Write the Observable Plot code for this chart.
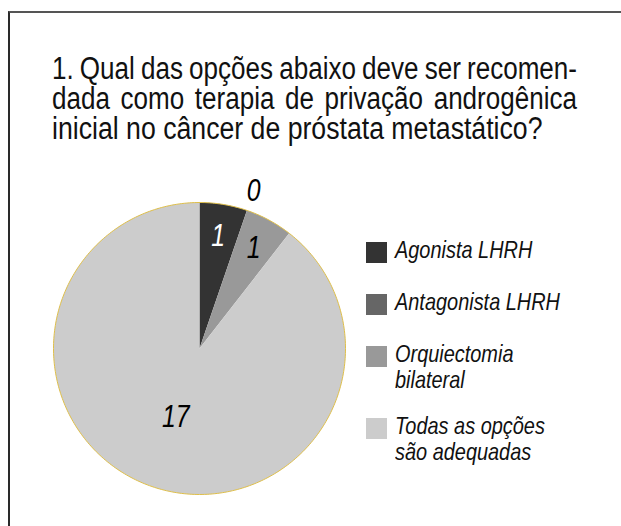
<!DOCTYPE html>
<html>
<head>
<meta charset="utf-8">
<script src="https://cdn.jsdelivr.net/npm/d3@7"></script>
<script src="https://cdn.jsdelivr.net/npm/@observablehq/plot@0.6"></script>
<style>
  html, body { margin: 0; padding: 0; background: #fff; }
  #wrap { position: relative; width: 621px; height: 526px; overflow: hidden; font-family: "Liberation Sans", Arial, sans-serif; }
  #frame { position: absolute; left: 8px; top: 11px; width: 640px; height: 540px; border-top: 2px solid #555; border-left: 2px solid #2a2a2a; }
  #title { position: absolute; left: 52px; top: 54px; font-size: 31px; line-height: 30px; color: #111; }
  #title .ln { display: block; height: 30px; }
  #title .ln span { display: inline-block; white-space: nowrap; transform-origin: 0 0; }
  #chart { position: absolute; left: 0; top: 0; }
  #legend { position: absolute; left: 366px; top: 0; font-style: italic; font-size: 24px; color: #111; }
  .item { position: absolute; left: 0; white-space: nowrap; }
  .sw { position: absolute; left: 0; top: 0; width: 21px; height: 21px; }
  .lab { position: absolute; left: 29px; top: -5px; line-height: 26px; transform: scaleX(0.83); transform-origin: 0 0; }
</style>
</head>
<body>
<div id="wrap">
  <div id="frame"></div>
  <div id="chart"></div>
  <div id="title"></div>
  <div id="legend"></div>
</div>
<script>
const titleLines = ["1. Qual das opções abaixo deve ser recomen-", "dada como terapia de privação androgênica", "inicial no câncer de próstata metastático?"];
const categories = ["Agonista LHRH", "Antagonista LHRH", "Orquiectomia bilateral", "Todas as opções são adequadas"];
const legendLines = [["Agonista LHRH"], ["Antagonista LHRH"], ["Orquiectomia", "bilateral"], ["Todas as opções", "são adequadas"]];
const values = [1, 0, 1, 17];
const colors = ["#333333", "#666666", "#999999", "#cccccc"];
const labelColors = ["#ffffff", "#000000", "#000000", "#000000"];
const legendTops = [242, 294, 346, 418];

// title: first two lines justified to the full width, last line left aligned
const titleEl = document.getElementById("title");
titleLines.forEach((line, i) => {
  const row = document.createElement("div");
  row.className = "ln";
  const span = document.createElement("span");
  row.appendChild(span);
  titleEl.appendChild(row);
  if (i < titleLines.length - 1) {
    const words = line.split(" ");
    span.textContent = words.join(" ");
    const w = span.getBoundingClientRect().width;
    const target = 525 / 0.84;
    const extra = (target - w) / (words.length - 1);
    span.style.wordSpacing = extra + "px";
    const w2 = span.getBoundingClientRect().width;
    span.style.transform = `scaleX(${525 / w2})`;
  } else {
    span.textContent = line;
    span.style.transform = "scaleX(0.86)";
  }
});

const arcs = d3.pie().sort(null)(values);

// slice polygons in unit-radius data space (angle clockwise from 12 o'clock)
const slices = [];
arcs.forEach((a, i) => {
  if (a.endAngle - a.startAngle <= 0) return;
  slices.push({cat: categories[i], x: 0, y: 0});
  const n = Math.max(2, Math.ceil((a.endAngle - a.startAngle) / 0.01));
  for (let k = 0; k <= n; k++) {
    const t = a.startAngle + (a.endAngle - a.startAngle) * k / n;
    slices.push({cat: categories[i], x: Math.sin(t), y: Math.cos(t)});
  }
  slices.push({cat: categories[i], x: 0, y: 0});
});

const rim = d3.range(0, 361).map(d => {
  const t = d * Math.PI / 180;
  return {x: Math.sin(t), y: Math.cos(t)};
});

const labels = arcs.map((a, i) => {
  const mid = (a.startAngle + a.endAngle) / 2;
  const r = values[i] === 0 ? 1.14 : (a.endAngle - a.startAngle > Math.PI ? 0.5 : 0.78);
  return {text: String(values[i]), x: r * Math.sin(mid), y: r * Math.cos(mid), color: labelColors[i]};
});

const chart = Plot.plot({
  width: 621,
  height: 526,
  margin: 0,
  x: {domain: [-1, 1], range: [53, 345], axis: null},
  y: {domain: [-1, 1], range: [494, 202], axis: null},
  color: {domain: categories, range: colors},
  style: {background: "transparent"},
  marks: [
    Plot.line(slices, {x: "x", y: "y", z: "cat", fill: "cat", stroke: "none", curve: "linear"}),
    Plot.line(rim, {x: "x", y: "y", stroke: "#dfbf4a", strokeWidth: 1, curve: "linear"}),
    Plot.text(labels, {
      x: "x", y: "y", text: "text", fill: d => d.color, fontSize: 31, fontStyle: "italic",
      fontFamily: "Liberation Sans, Arial, sans-serif",
      render: (index, scales, vals, dims, ctx, next) => {
        const g = next(index, scales, vals, dims, ctx);
        const texts = g.querySelectorAll("text");
        texts.forEach((t, k) => {
          const i = index[k];
          t.setAttribute("transform", `translate(${vals.x[i]},${vals.y[i]}) scale(0.8,1)`);
        });
        return g;
      }
    })
  ]
});
document.getElementById("chart").appendChild(chart);

const legend = document.getElementById("legend");
categories.forEach((c, i) => {
  const item = document.createElement("div");
  item.className = "item";
  item.style.top = legendTops[i] + "px";
  const sw = document.createElement("div");
  sw.className = "sw";
  sw.style.background = colors[i];
  const lab = document.createElement("div");
  lab.className = "lab";
  lab.innerHTML = legendLines[i].join("<br>");
  item.appendChild(sw);
  item.appendChild(lab);
  legend.appendChild(item);
});
</script>
</body>
</html>
